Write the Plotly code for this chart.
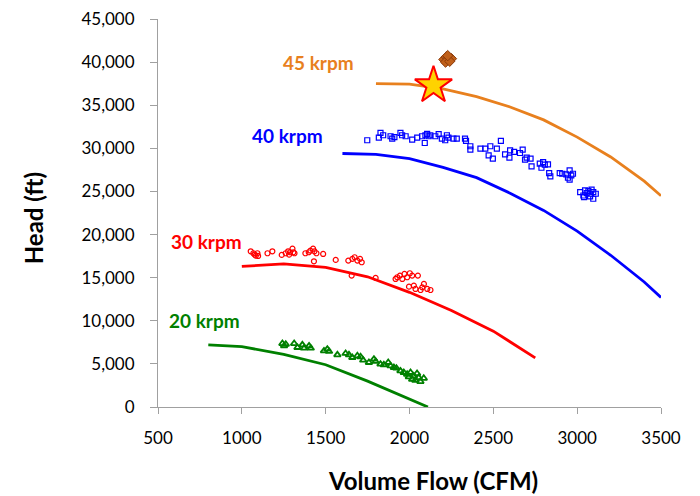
import plotly.graph_objects as go

# Speed-line curves
x45 = [1800, 2000, 2200, 2400, 2600, 2800, 3000, 3200, 3400, 3500]
y45 = [37500, 37450, 36900, 36000, 34800, 33300, 31300, 29000, 26200, 24500]
x40 = [1600, 1800, 2000, 2200, 2400, 2600, 2800, 3000, 3200, 3400, 3500]
y40 = [29400, 29300, 28800, 27800, 26600, 24800, 22800, 20400, 17600, 14500, 12700]
x30 = [1000, 1250, 1500, 1750, 2000, 2250, 2500, 2750]
y30 = [16300, 16600, 16200, 15100, 13300, 11200, 8800, 5700]
x20 = [800, 1000, 1250, 1500, 1750, 2000, 2110]
y20 = [7200, 7000, 6100, 4900, 3000, 900, 0]

# Test data
bx = [1748, 1817, 1827, 1843, 1887, 1897, 1910, 1946, 1956, 1977, 2016, 2046, 2075, 2095, 2105, 2114, 2091,
      2124, 2154, 2174, 2193, 2213, 2223, 2232, 2262, 2282, 2331, 2337, 2363, 2363, 2423, 2452, 2482, 2472,
      2497, 2521, 2545, 2570, 2596, 2600, 2624, 2659, 2675, 2689, 2699, 2722, 2728, 2777, 2787, 2797, 2807,
      2826, 2833, 2840, 2896, 2911, 2935, 2945, 2955, 2965, 2975, 2955, 3018, 3037, 3047, 3057, 3067, 3077,
      3086, 3096, 3096, 3111, 3041, 3077]
by = [30940, 31250, 31790, 31520, 31400, 31130, 31300, 31790, 31520, 31400, 31010, 31250, 31400, 31520, 31670,
      31400, 30620, 31520, 31400, 31640, 31130, 30940, 31520, 31250, 31130, 31130, 31130, 30870, 30240, 29850,
      29970, 29970, 30240, 29190, 28800, 29970, 30870, 29300, 28930, 29770, 29580, 29460, 29850, 28690, 28930,
      28800, 27910, 28220, 27750, 28410, 28100, 28140, 27130, 26740, 27130, 27050, 26980, 26590, 27440, 26860,
      27050, 26360, 24920, 24530, 25120, 24810, 25040, 24730, 25200, 24920, 24150, 24730, 24340, 24420]
rx = [1053, 1069, 1077, 1083, 1097, 1093, 1153, 1182, 1238, 1262, 1276, 1288, 1302, 1307, 1282, 1314, 1379,
      1399, 1409, 1425, 1433, 1445, 1430, 1485, 1560, 1635, 1659, 1673, 1689, 1705, 1715, 1655, 1798, 1917,
      1927, 1943, 1957, 1970, 1986, 2002, 2016, 2050, 1997, 2026, 2036, 2066, 2076, 2086, 2106, 2125]
ry = [18060, 17830, 17670, 17550, 17520, 17830, 17830, 18060, 17640, 17830, 18060, 17950, 18360, 17950, 17670,
      17830, 17830, 17950, 18140, 18360, 18060, 17830, 16900, 17750, 17060, 16980, 17180, 17370, 16980, 17180,
      16790, 15240, 14970, 14850, 15050, 15240, 14850, 15430, 15050, 15510, 15240, 15240, 13960, 14080, 13690,
      13570, 13880, 14270, 13690, 13570]
gx = [1242, 1252, 1262, 1312, 1332, 1361, 1371, 1401, 1411, 1490, 1510, 1520, 1570, 1619, 1639, 1659, 1689,
      1708, 1724, 1758, 1788, 1798, 1827, 1847, 1873, 1887, 1907, 1922, 1946, 1966, 1986, 1996, 2006, 2016,
      2025, 2035, 2055, 2065, 2085, 2045]
gy = [7360, 7090, 7280, 7360, 6900, 7210, 6820, 7090, 6820, 6510, 6710, 6440, 6050, 6210, 6050, 5740, 5940,
      5820, 5430, 5160, 5550, 5280, 4970, 4890, 5160, 4770, 4580, 4500, 4190, 4000, 3800, 3490, 4000, 3220,
      3610, 3100, 3410, 2950, 3330, 3880]
dx = [2205, 2220, 2235, 2250, 2215, 2240, 2228]
dy = [40300, 40600, 40500, 40400, 40000, 40100, 40750]
star_x = [2143]
star_y = [37300]

labels = ["45 krpm", "40 krpm", "30 krpm", "20 krpm"]
label_x = [1460, 1270, 790, 775]
label_y = [39900, 31500, 19200, 10000]

x_title = "Volume Flow (CFM)"
y_title = "Head (ft)"

ORANGE = "#E8801E"
BLUE = "#0000FF"
RED = "#FF0000"
GREEN = "#008000"
colors = [ORANGE, BLUE, RED, GREEN]

fig = go.Figure()
for xs, ys, c in [(x45, y45, ORANGE), (x40, y40, BLUE), (x30, y30, RED), (x20, y20, GREEN)]:
    fig.add_trace(go.Scatter(x=xs, y=ys, mode="lines", line=dict(color=c, width=2.8)))

fig.add_trace(go.Scatter(x=bx, y=by, mode="markers",
                         marker=dict(symbol="square-open", size=5, color=BLUE, line=dict(width=1.2))))
fig.add_trace(go.Scatter(x=rx, y=ry, mode="markers",
                         marker=dict(symbol="circle-open", size=5, color=RED, line=dict(width=1.2))))
fig.add_trace(go.Scatter(x=gx, y=gy, mode="markers",
                         marker=dict(symbol="triangle-up-open", size=6, color=GREEN, line=dict(width=1.8))))
fig.add_trace(go.Scatter(x=dx, y=dy, mode="markers",
                         marker=dict(symbol="diamond", size=8, color="#C0601A",
                                     line=dict(color="#8B3A0A", width=1))))
fig.add_trace(go.Scatter(x=star_x, y=star_y, mode="markers",
                         marker=dict(symbol="star", size=28, color="#FFD200",
                                     line=dict(color="#FF0000", width=2))))

for t, lx, ly, c in zip(labels, label_x, label_y, colors):
    fig.add_annotation(x=lx, y=ly, text="<b>%s</b>" % t, showarrow=False,
                       font=dict(size=19, color=c, family="Lato"))

# axis titles
fig.add_annotation(xref="paper", yref="paper", x=0.547, y=-0.19, text="<b>%s</b>" % x_title,
                   showarrow=False, xanchor="center", yanchor="middle",
                   font=dict(size=24, color="black", family="Lato"))
fig.add_annotation(xref="paper", yref="paper", x=-0.248, y=0.487, text="<b>%s</b>" % y_title,
                   showarrow=False, xanchor="center", yanchor="middle", textangle=-90,
                   font=dict(size=24, color="black", family="Lato"))

fig.update_layout(
    width=700, height=496,
    margin=dict(l=158, r=39, t=19, b=89),
    paper_bgcolor="white", plot_bgcolor="white",
    showlegend=False,
    font=dict(family="Lato", size=17, color="black"),
)
fig.update_xaxes(range=[500, 3500], dtick=500, tick0=500, showgrid=False, zeroline=False,
                 showline=True, linecolor="#A0A0A0", linewidth=1, ticks="outside", ticklen=6,
                 tickcolor="#A0A0A0", tickfont=dict(size=17), ticklabelstandoff=10, automargin=False)
fig.update_yaxes(range=[0, 45000], dtick=5000, showgrid=False, zeroline=False,
                 showline=True, linecolor="#A0A0A0", linewidth=1, ticks="outside", ticklen=7,
                 tickcolor="#A0A0A0", tickformat=",", tickfont=dict(size=17), ticklabelstandoff=12,
                 automargin=False)

fig.write_html("out.html")
